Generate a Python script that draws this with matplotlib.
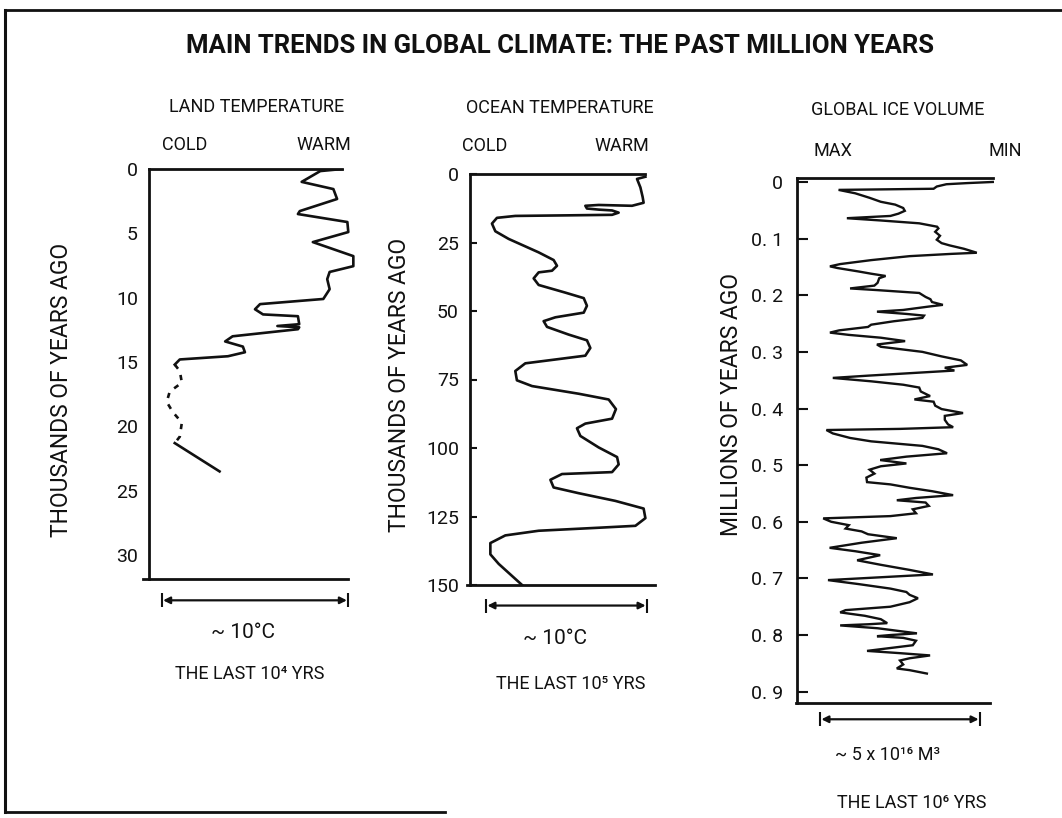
import matplotlib
matplotlib.use("Agg")
import matplotlib.pyplot as plt

# ---------------- data ----------------
# Land temperature (relative, deg C; 0 = coldest end of 10 C span), thousands of years ago
land_ka = [0.0, 0.16, 1.0, 1.56, 2.33, 3.27, 3.5, 4.12, 4.9, 5.68, 6.77, 7.55, 8.0, 8.56,
           9.34, 10.1, 10.5, 10.9, 11.3, 11.44, 12.06, 12.2, 12.3, 12.45, 13.0, 13.4,
           13.8, 14.24, 14.55, 14.8, 15.2]
land_temp = [9.68, 8.5, 7.5, 9.2, 9.4, 7.4, 7.3, 9.95, 10.0, 8.1, 10.27, 10.27, 9.0, 8.87,
             9.0, 8.66, 5.27, 5.0, 5.43, 7.3, 7.37, 6.2, 7.37, 7.3, 3.8, 3.4,
             4.35, 4.46, 3.55, 0.97, 0.7]
land_ka_dashed = [15.2, 15.7, 16.6, 17.3, 18.1, 18.9, 19.7, 20.8, 21.3]
land_temp_dashed = [0.7, 0.97, 1.08, 0.43, 0.27, 0.6, 1.08, 0.97, 0.7]
land_ka_old = [21.3, 23.5]
land_temp_old = [0.7, 3.1]

# Ocean temperature (relative deg C), thousands of years ago
ocean_ka = [1.0, 1.8, 4.9, 8.4, 10.5, 11.6, 11.3, 11.6, 12.6, 13.0, 13.3, 14.1, 14.9,
            15.1, 15.3, 16.0, 18.1, 20.9, 23.7, 28.6, 31.4, 33.5, 35.3, 35.9, 38.1, 40.5,
            43.3, 45.3, 48.1, 50.6, 52.3, 53.7, 55.8, 58.6, 60.7, 63.5, 66.3, 67.7, 69.1,
            71.9, 75.3, 77.4, 80.2, 82.3, 85.8, 89.3, 91.1, 92.8, 95.6, 99.8, 103.3, 106.0,
            108.8, 109.5, 111.6, 114.4, 116.5, 119.3, 122.1, 125.6, 128.4, 129.1, 130.2,
            131.9, 134.7, 138.8, 142.3, 150.0]
ocean_temp = [9.9, 9.38, 9.59, 9.73, 9.79, 9.07, 7.0, 6.17, 6.27, 7.0, 7.83, 8.24, 7.83,
              4.93, 1.82, 0.68, 0.37, 0.58, 1.41, 3.27, 4.2, 4.41, 4.1, 3.27, 2.96, 3.27,
              4.93, 6.07, 6.27, 6.07, 4.31, 3.58, 3.79, 5.13, 6.27, 6.48, 6.17, 4.31, 2.44,
              1.82, 1.92, 2.86, 5.76, 7.62, 8.07, 7.83, 6.17, 5.65, 5.86, 7.0, 8.14, 8.24,
              7.83, 4.72, 4.0, 4.2, 5.76, 8.03, 9.79, 9.9, 9.28, 7.0, 3.27,
              1.2, 0.27, 0.27, 0.79, 2.24]

# Global ice volume (units of 1e16 m^3, right = less ice), millions of years ago
ice_ma = [0.000, 0.002, 0.004, 0.008, 0.012, 0.014, 0.020, 0.028, 0.035, 0.040, 0.046,
          0.051, 0.056, 0.060, 0.064, 0.068, 0.073, 0.079, 0.082, 0.088, 0.095, 0.102,
          0.108, 0.112, 0.118, 0.125, 0.127, 0.131, 0.138, 0.145, 0.149, 0.152, 0.158,
          0.162, 0.166, 0.170, 0.178, 0.183, 0.188, 0.191, 0.196, 0.203, 0.207, 0.212,
          0.217, 0.220, 0.226, 0.229, 0.233, 0.236, 0.240, 0.246, 0.252, 0.256, 0.262,
          0.266, 0.270, 0.275, 0.281, 0.287, 0.291, 0.300, 0.308, 0.315, 0.323, 0.328,
          0.333, 0.337, 0.342, 0.346, 0.352, 0.358, 0.363, 0.370, 0.378, 0.384, 0.388,
          0.395, 0.401, 0.408, 0.413, 0.420, 0.428, 0.433, 0.436, 0.438, 0.444, 0.452,
          0.458, 0.466, 0.472, 0.479, 0.485, 0.491, 0.497, 0.502, 0.508, 0.515, 0.522,
          0.530, 0.534, 0.540, 0.546, 0.553, 0.558, 0.562, 0.566, 0.572, 0.578, 0.585,
          0.590, 0.594, 0.600, 0.606, 0.612, 0.617, 0.622, 0.629, 0.637, 0.646, 0.652,
          0.659, 0.668, 0.676, 0.685, 0.693, 0.697, 0.703, 0.710, 0.718, 0.724, 0.729,
          0.735, 0.742, 0.750, 0.756, 0.760, 0.766, 0.772, 0.779, 0.781, 0.783, 0.788,
          0.797, 0.800, 0.802, 0.805, 0.810, 0.818, 0.828, 0.832, 0.836, 0.841, 0.845,
          0.852, 0.859, 0.862, 0.868]
ice_vol = [5.40, 4.60, 3.95, 3.65, 3.55, 0.58, 1.10, 1.55, 1.90, 2.35, 2.60,
           2.65, 2.45, 2.20, 0.84, 1.90, 3.10, 3.66, 3.70, 3.60, 3.75, 3.65,
           3.80, 4.05, 4.50, 4.90, 4.10, 2.80, 1.60, 0.63, 0.31, 0.55, 1.20,
           1.60, 2.05, 1.85, 1.80, 1.70, 0.94, 1.80, 3.10, 3.30, 3.45, 3.50,
           3.84, 3.40, 2.60, 1.78, 2.70, 3.25, 3.20, 2.30, 1.60, 1.50, 0.60,
           0.31, 0.90, 1.90, 2.66, 1.78, 1.90, 3.20, 3.80, 4.40, 4.60, 3.90,
           4.20, 3.00, 1.50, 0.40, 1.60, 2.60, 3.10, 3.15, 3.44, 2.95, 3.55,
           3.60, 3.80, 4.47, 3.90, 3.90, 4.00, 4.16, 2.50, 0.20, 0.40, 0.94,
           1.60, 3.20, 3.70, 3.97, 2.70, 1.88, 2.70, 1.90, 1.55, 1.70, 1.45,
           1.47, 2.20, 2.80, 3.50, 4.16, 3.00, 2.40, 3.30, 3.40, 2.90, 3.00,
           2.20, 0.10, 0.35, 0.90, 0.80, 1.30, 1.50, 2.40, 1.30, 0.30, 1.10,
           1.88, 1.16, 1.90, 2.80, 3.53, 2.20, 0.25, 1.20, 2.20, 2.70, 2.80,
           3.06, 2.80, 2.20, 0.80, 0.63, 1.40, 1.90, 2.10, 1.50, 0.63, 1.80,
           3.03, 2.20, 1.78, 2.60, 3.00, 2.90, 1.47, 2.50, 3.44, 2.80, 2.50,
           2.60, 2.40, 2.80, 3.34]

land_ticks = [0, 5, 10, 15, 20, 25, 30]
ocean_ticks = [0, 25, 50, 75, 100, 125, 150]
ice_ticks = [0, 0.1, 0.2, 0.3, 0.4, 0.5, 0.6, 0.7, 0.8, 0.9]
ice_ticklabels = ["0", "0. 1", "0. 2", "0. 3", "0. 4", "0. 5", "0. 6", "0. 7", "0. 8", "0. 9"]

title = "MAIN TRENDS IN GLOBAL CLIMATE: THE PAST MILLION YEARS"

# ---------------- figure ----------------
W, H = 1062, 818
FONT = ["Roboto", "DejaVu Sans"]
plt.rcParams['font.family'] = FONT
fig = plt.figure(figsize=(W / 100, H / 100), dpi=100)
LW = 1.9
INK = "#111111"


def rect(l, t, r, b):
    return [l / W, 1 - b / H, (r - l) / W, (b - t) / H]


def ftext(x, y, s, **kw):
    kw.setdefault("ha", "center")
    kw.setdefault("va", "center")
    kw.setdefault("color", INK)
    fig.text(x / W, 1 - y / H, s, family=FONT, **kw)


def style_axes(ax, top_end, bot_start, bot_end, ticklen, pad=8):
    ax.spines["right"].set_visible(False)
    for s in ("left", "top", "bottom"):
        ax.spines[s].set_linewidth(2.0)
        ax.spines[s].set_color(INK)
    ax.spines["top"].set_bounds(ax.get_xlim()[0], top_end)
    ax.spines["bottom"].set_bounds(bot_start, bot_end)
    ax.set_xticks([])
    ax.tick_params(axis="y", direction="in", length=ticklen, width=1.5, color=INK,
                   labelsize=14, pad=pad, labelcolor=INK)
    ax.patch.set_alpha(0)


def span_arrow(ax, x0, x1, yfrac):
    ax.annotate("", xy=(x1, yfrac), xytext=(x0, yfrac),
                xycoords=("data", "axes fraction"), textcoords=("data", "axes fraction"),
                arrowprops=dict(arrowstyle="<|-|>", color=INK, lw=1.6,
                                mutation_scale=10, shrinkA=1, shrinkB=1))
    ax.plot([x0, x1], [yfrac, yfrac], transform=ax.get_xaxis_transform(),
            marker="|", ms=10, mew=1.5, ls="none", color=INK, clip_on=False)


# ----- page frame -----
fig.add_artist(plt.Line2D([5 / W, 5 / W], [1 - 10 / H, 1 - 812 / H], color=INK, lw=2.2))
fig.add_artist(plt.Line2D([5 / W, 1.0], [1 - 10 / H, 1 - 10 / H], color=INK, lw=2.0))
fig.add_artist(plt.Line2D([5 / W, 445 / W], [1 - 812 / H, 1 - 812 / H], color=INK, lw=2.0))

ftext(560, 46, title, fontsize=18.5, fontweight="bold")

# ----- land panel -----
ax1 = fig.add_axes(rect(149, 169, 363, 579))
ax1.set_xlim((149 - 161.7) / 18.66, (363 - 161.7) / 18.66)
ax1.set_ylim(31.86, 0)
ax1.plot(land_temp, land_ka, color=INK, lw=LW, solid_joinstyle="round")
ax1.plot(land_temp_dashed, land_ka_dashed, color=INK, lw=LW, ls=(0, (2.0, 2.6)))
ax1.plot(land_temp_old, land_ka_old, color=INK, lw=LW)
style_axes(ax1, 9.64, -1.0, 10.0, 0)
ax1.set_yticks(land_ticks)
span_arrow(ax1, 0, 10, -0.052)
ftext(257, 107, "LAND TEMPERATURE", fontsize=13)
ftext(185, 145, "COLD", fontsize=13)
ftext(324, 145, "WARM", fontsize=13)
ftext(62, 390, "THOUSANDS OF YEARS AGO", fontsize=16.5, rotation=90)
ftext(243, 633, "~ 10°C", fontsize=15)
ftext(250, 674, "THE LAST 10⁴ YRS", fontsize=13)

# ----- ocean panel -----
ax2 = fig.add_axes(rect(470, 174, 662, 585))
ax2.set_xlim((470 - 486) / 16.1, (662 - 486) / 16.1)
ax2.set_ylim(150, 0)
ax2.plot(ocean_temp, ocean_ka, color=INK, lw=LW, solid_joinstyle="round")
style_axes(ax2, 9.9, -1.2, 10.5, 5)
ax2.set_yticks(ocean_ticks)
span_arrow(ax2, 0, 10, -0.05)
ftext(560, 108, "OCEAN TEMPERATURE", fontsize=13)
ftext(485, 146, "COLD", fontsize=13)
ftext(622, 146, "WARM", fontsize=13)
ftext(400, 385, "THOUSANDS OF YEARS AGO", fontsize=16.5, rotation=90)
ftext(555, 638, "~ 10°C", fontsize=15)
ftext(571, 684, "THE LAST 10⁵ YRS", fontsize=13)

# ----- ice panel -----
ax3 = fig.add_axes(rect(797, 178, 1000, 703))
ax3.set_xlim((797 - 820) / 32.0, (1000 - 820) / 32.0)
ax3.set_ylim(0.92, -0.007)
ax3.plot(ice_vol, ice_ma, color=INK, lw=1.7, solid_joinstyle="miter")
style_axes(ax3, 5.4, -0.75, 5.3, 8, pad=10)
ax3.set_yticks(ice_ticks)
ax3.set_yticklabels(ice_ticklabels)
span_arrow(ax3, 0, 5, -0.031)
ftext(898, 110, "GLOBAL ICE VOLUME", fontsize=13)
ftext(833, 151, "MAX", fontsize=13)
ftext(1005, 151, "MIN", fontsize=13)
ftext(732, 405, "MILLIONS OF YEARS AGO", fontsize=16.5, rotation=90)
ftext(888, 755, "~ 5 x 10¹⁶ M³", fontsize=13)
ftext(912, 803, "THE LAST 10⁶ YRS", fontsize=13)

fig.savefig("out.png", dpi=100)
